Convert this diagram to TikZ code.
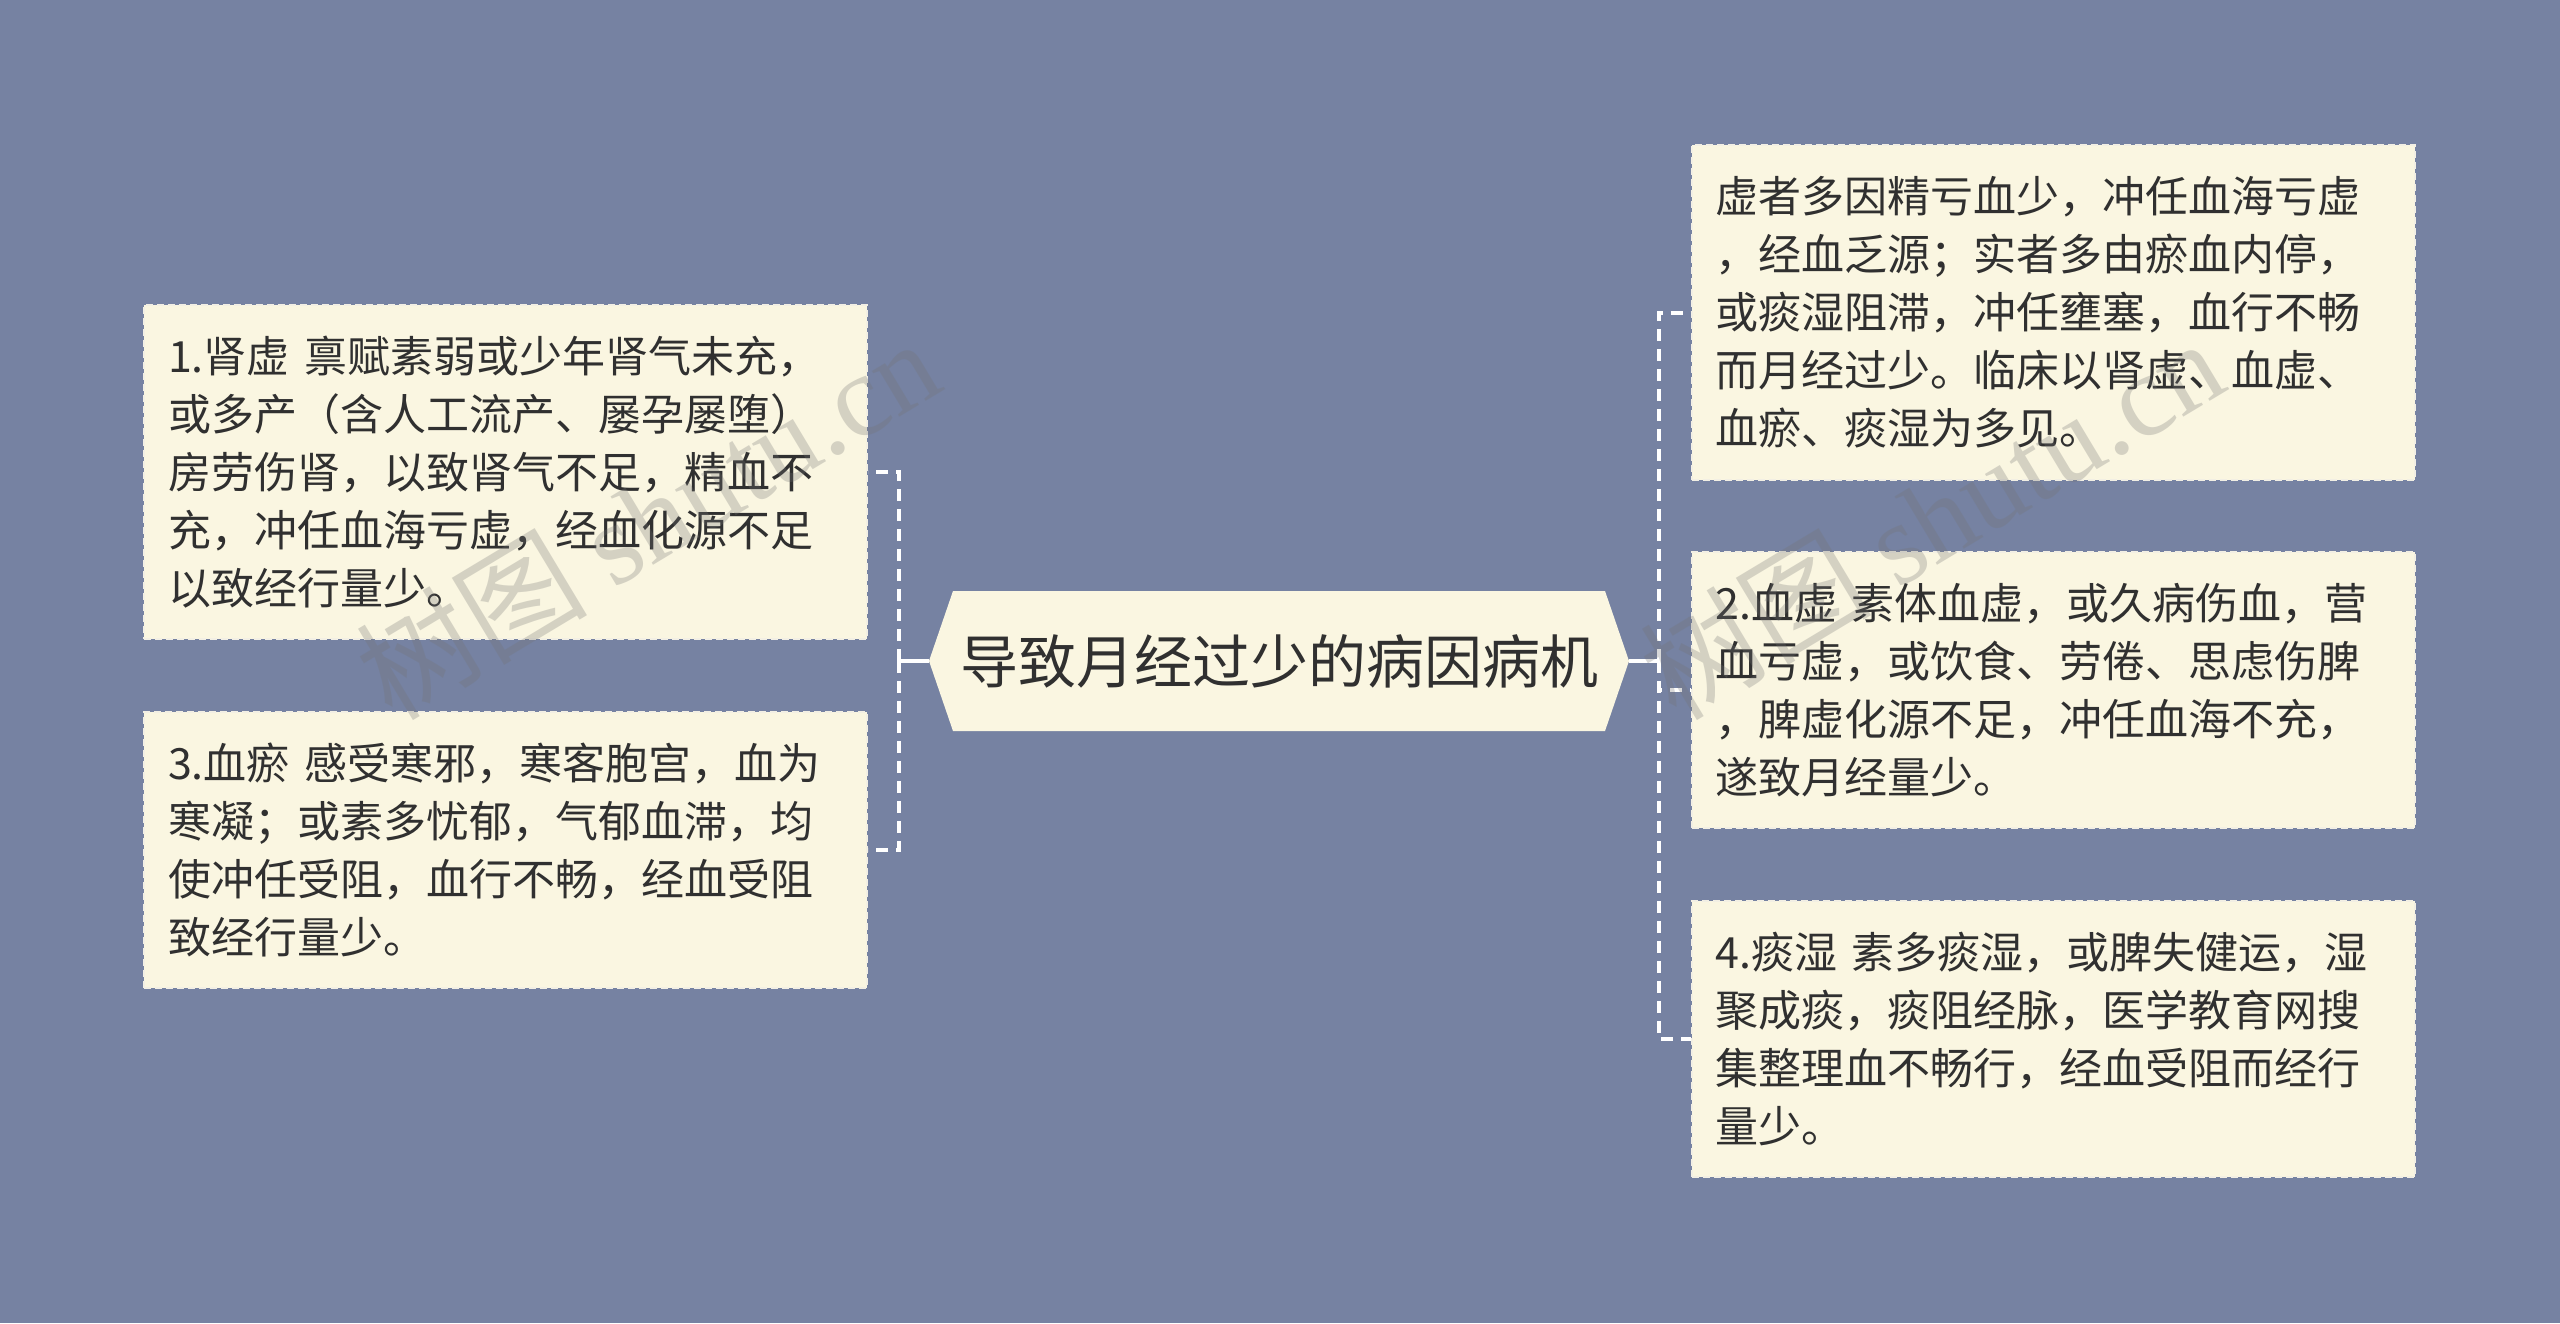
\documentclass[tikz,border=0pt]{standalone}
\usepackage{fontspec}
\setmainfont{Noto Sans CJK SC}
\newfontfamily\wmlatin{Liberation Serif}
\newfontfamily\wmcjk{Noto Sans CJK SC}
\definecolor{bgc}{HTML}{7682A2}
\definecolor{cream}{HTML}{FAF6E1}
\definecolor{txt}{HTML}{303030}
\definecolor{bord}{HTML}{F2EFE4}
\tikzset{
  box/.style={draw=bord, fill=cream, line width=2pt, dash pattern=on 7pt off 4pt,
    minimum width=723pt, text width=675pt, inner xsep=24pt, inner ysep=0pt,
    align=left, text=txt, font=\fontsize{43}{58}\selectfont},
  conn/.style={draw=white, line width=4pt, dash pattern=on 12pt off 8pt},
  connsolid/.style={draw=white, line width=4pt},
  wm/.style={text=black!55, text opacity=0.28, font=\fontsize{116}{116}\selectfont, rotate=31, inner sep=0pt}
}
\begin{document}
\begin{tikzpicture}[x=1pt,y=-1pt]
\fill[bgc] (0,0) rectangle (2560,1323);
\useasboundingbox (0,0) rectangle (2560,1323);

% central hexagon
\fill[cream] (929,661) -- (953,591) -- (1605,591) -- (1629,661) -- (1605,731) -- (953,731) -- cycle;
\node[text=txt, font=\fontsize{58}{62}\selectfont, inner sep=0pt] (c) at (1279,661) {导致月经过少的病因病机};
\coordinate (cL) at (929,661);
\coordinate (cR) at (1629,661);
\coordinate (sL) at (899,661);
\coordinate (sR) at (1659,661);

% boxes
\node[box, minimum height=334pt] (b1) at (505.5,472) {1.肾虚 禀赋素弱或少年肾气未充，\\或多产（含人工流产、屡孕屡堕）\\房劳伤肾，以致肾气不足，精血不\\充，冲任血海亏虚，经血化源不足\\以致经行量少。};
\node[box, minimum height=276pt] (b3) at (505.5,850) {3.血瘀 感受寒邪，寒客胞宫，血为\\寒凝；或素多忧郁，气郁血滞，均\\使冲任受阻，血行不畅，经血受阻\\致经行量少。};
\node[box, minimum height=335pt] (r0) at (2053,312.5) {虚者多因精亏血少，冲任血海亏虚\\，经血乏源；实者多由瘀血内停，\\或痰湿阻滞，冲任壅塞，血行不畅\\而月经过少。临床以肾虚、血虚、\\血瘀、痰湿为多见。};
\node[box, minimum height=276pt] (b2) at (2053,690) {2.血虚 素体血虚，或久病伤血，营\\血亏虚，或饮食、劳倦、思虑伤脾\\，脾虚化源不足，冲任血海不充，\\遂致月经量少。};
\node[box, minimum height=276pt] (b4) at (2053,1039) {4.痰湿 素多痰湿，或脾失健运，湿\\聚成痰，痰阻经脉，医学教育网搜\\集整理血不畅行，经血受阻而经行\\量少。};

% connectors
\draw[connsolid] (cL) -- (sL);
\draw[connsolid] (cR) -- (sR);
\draw[conn] (sL) |- (b1.east);
\draw[conn] (sL) |- (b3.east);
\draw[conn] (sR) |- (r0.west);
\draw[conn] (sR) |- (b2.west);
\draw[conn] (sR) |- (b4.west);

% watermarks
\node[wm] (w1) at (647,518) {{\wmcjk 树图} {\wmlatin shutu.cn}};
\node[wm] (w2) at (1931,518) {{\wmcjk 树图} {\wmlatin shutu.cn}};
\end{tikzpicture}
\end{document}
